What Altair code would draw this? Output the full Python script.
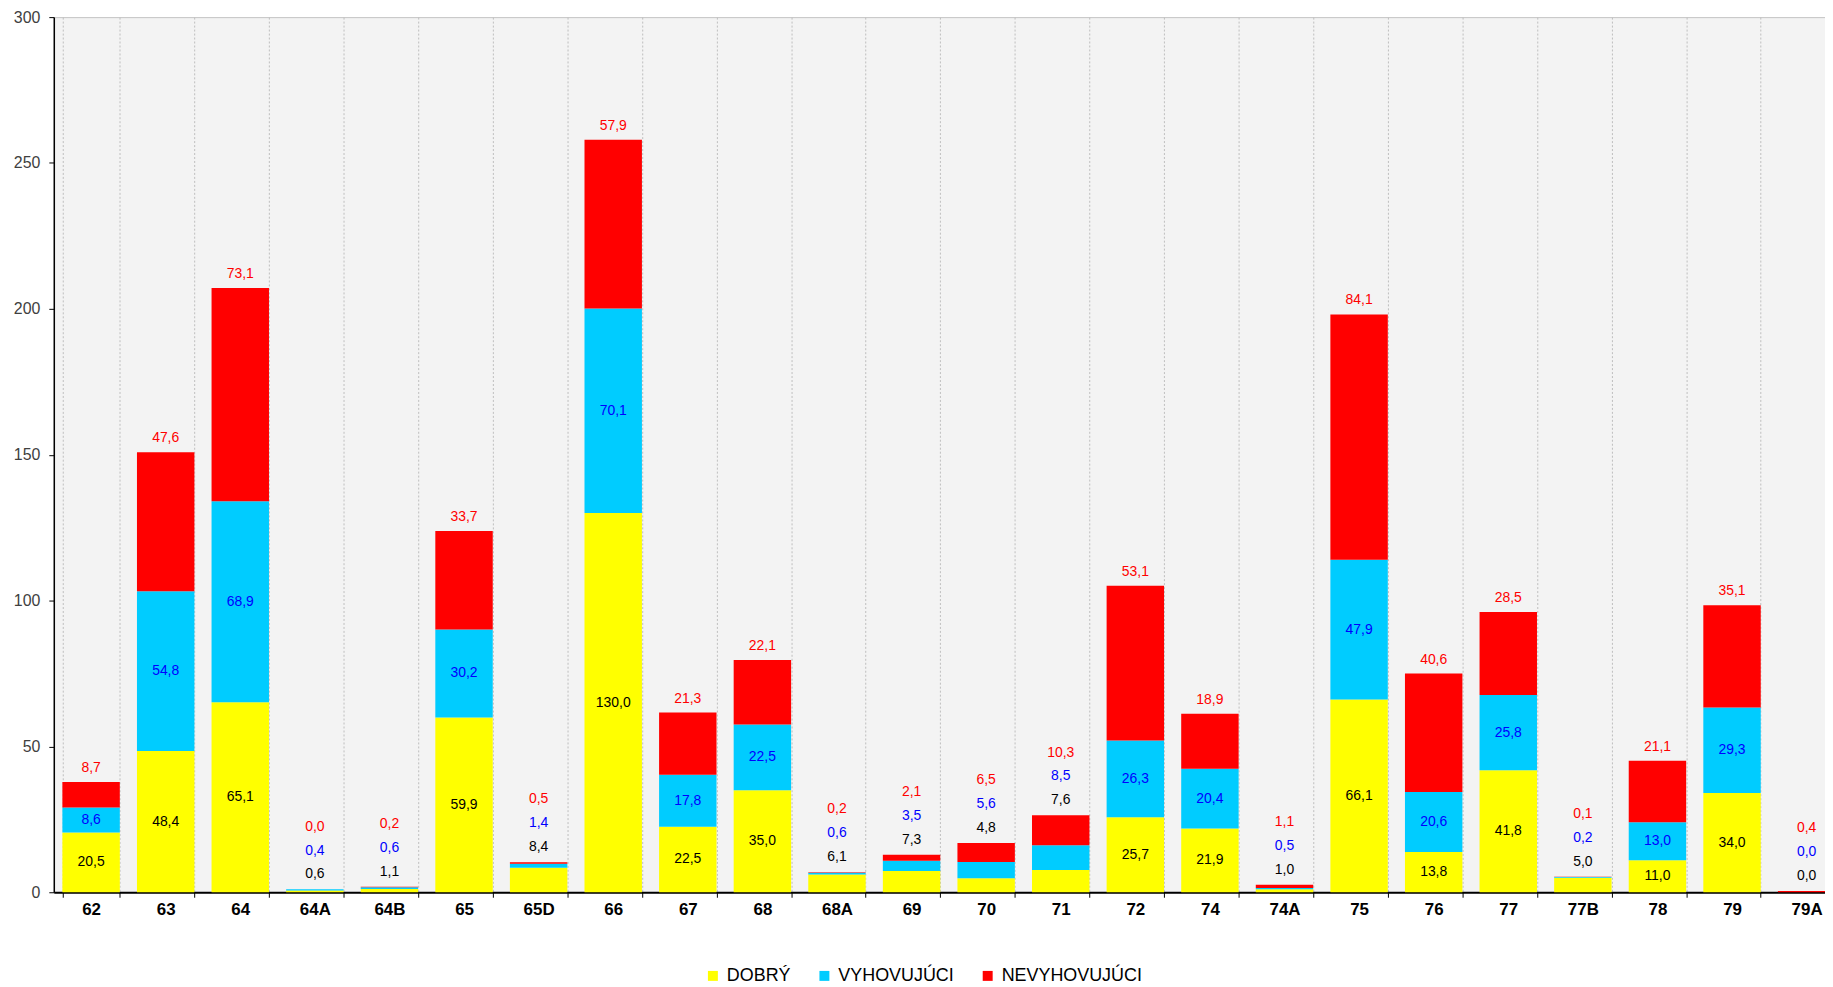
import altair as alt
import pandas as pd

categories = ["62", "63", "64", "64A", "64B", "65", "65D", "66", "67", "68", "68A", "69",
              "70", "71", "72", "74", "74A", "75", "76", "77", "77B", "78", "79", "79A"]
dobry = [20.5, 48.4, 65.1, 0.6, 1.1, 59.9, 8.4, 130.0, 22.5, 35.0, 6.1, 7.3,
         4.8, 7.6, 25.7, 21.9, 1.0, 66.1, 13.8, 41.8, 5.0, 11.0, 34.0, 0.0]
vyhovujuci = [8.6, 54.8, 68.9, 0.4, 0.6, 30.2, 1.4, 70.1, 17.8, 22.5, 0.6, 3.5,
              5.6, 8.5, 26.3, 20.4, 0.5, 47.9, 20.6, 25.8, 0.2, 13.0, 29.3, 0.0]
nevyhovujuci = [8.7, 47.6, 73.1, 0.0, 0.2, 33.7, 0.5, 57.9, 21.3, 22.1, 0.2, 2.1,
                6.5, 10.3, 53.1, 18.9, 1.1, 84.1, 40.6, 28.5, 0.1, 21.1, 35.1, 0.4]

series_names = ["DOBRÝ", "VYHOVUJÚCI", "NEVYHOVUJÚCI"]
bar_colors = ["#FFFF00", "#00CCFF", "#FF0000"]
label_colors = ["#000000", "#0000FF", "#FF0000"]

rows = []
for i, cat in enumerate(categories):
    vals = [dobry[i], vyhovujuci[i], nevyhovujuci[i]]
    total = sum(vals)
    start = 0.0
    for k, (name, v) in enumerate(zip(series_names, vals)):
        rows.append({
            "cat": cat, "series": name, "order": k, "value": v,
            "start": start, "end": start + v, "mid": start + v / 2,
            "total": total, "small": total < 30,
            "label": f"{v:.1f}".replace(".", ","),
            "lblcolor": label_colors[k],
        })
        start += v
df = pd.DataFrame(rows)

FONT = "Liberation Sans"
PLOT_W = 1779      # visible plot width
X_RANGE = 1798     # category axis runs slightly past the right edge, as in the reference

base = alt.Chart(df)
xenc = alt.X("cat:N", sort=categories, title=None,
             scale=alt.Scale(paddingInner=0.23, paddingOuter=0.115, range=[0, X_RANGE]),
             axis=alt.Axis(labelFontSize=17, labelFontWeight="bold", labelColor="#000000",
                           labelFont=FONT, labelAngle=0, tickSize=5, tickColor="#000000",
                           domainColor="#000000", domainWidth=2, labelPadding=4,
                           grid=True, gridDash=[2, 2], gridColor="#BDBDBD", gridWidth=1,
                           tickBand="extent"))

bars = base.mark_bar().encode(
    x=xenc,
    y=alt.Y("start:Q", title=None,
            scale=alt.Scale(domain=[0, 300], nice=False),
            axis=alt.Axis(values=[0, 50, 100, 150, 200, 250, 300], labelFontSize=16,
                          labelColor="#404040", labelFont=FONT, tickSize=5,
                          tickColor="#000000", domainColor="#000000", domainWidth=1.5,
                          labelPadding=9, grid=False)),
    y2="end:Q",
    color=alt.Color("series:N", title=None,
                    scale=alt.Scale(domain=series_names, range=bar_colors),
                    legend=alt.Legend(orient="none", legendX=653, legendY=954,
                                      direction="horizontal", symbolType="square",
                                      symbolSize=100, symbolStrokeWidth=0,
                                      labelFontSize=18, labelFont=FONT,
                                      labelColor="#000000", columnPadding=24,
                                      labelOffset=5, padding=0)),
)

txt = dict(fontSize=14, font=FONT, baseline="middle", align="center")

inner = base.transform_filter("!datum.small && datum.order < 2").mark_text(**txt).encode(
    x=alt.X("cat:N", sort=categories), y=alt.Y("mid:Q"), text="label:N",
    color=alt.Color("lblcolor:N", scale=None))

top_big = base.transform_filter("!datum.small && datum.order == 2").mark_text(dy=-14, **txt).encode(
    x=alt.X("cat:N", sort=categories), y=alt.Y("total:Q"), text="label:N",
    color=alt.Color("lblcolor:N", scale=None))

small_layers = []
for k, off in enumerate([-15, -39, -63]):
    small_layers.append(
        base.transform_filter(f"datum.small && datum.order == {k}").mark_text(dy=off, **txt).encode(
            x=alt.X("cat:N", sort=categories), y=alt.Y("total:Q"), text="label:N",
            color=alt.Color("lblcolor:N", scale=None)))

chart = alt.layer(bars, inner, top_big, *small_layers).properties(
    width=PLOT_W, height=879,
    autosize=alt.AutoSizeParams(type="none"),
    padding={"left": 46, "top": 7, "right": 0, "bottom": 95},
    background="#FFFFFF",
).configure_view(fill="#F3F3F3", stroke="#C4C4C4", strokeWidth=1)

chart.save("out.html", embed_options={"renderer": "svg", "actions": False})
